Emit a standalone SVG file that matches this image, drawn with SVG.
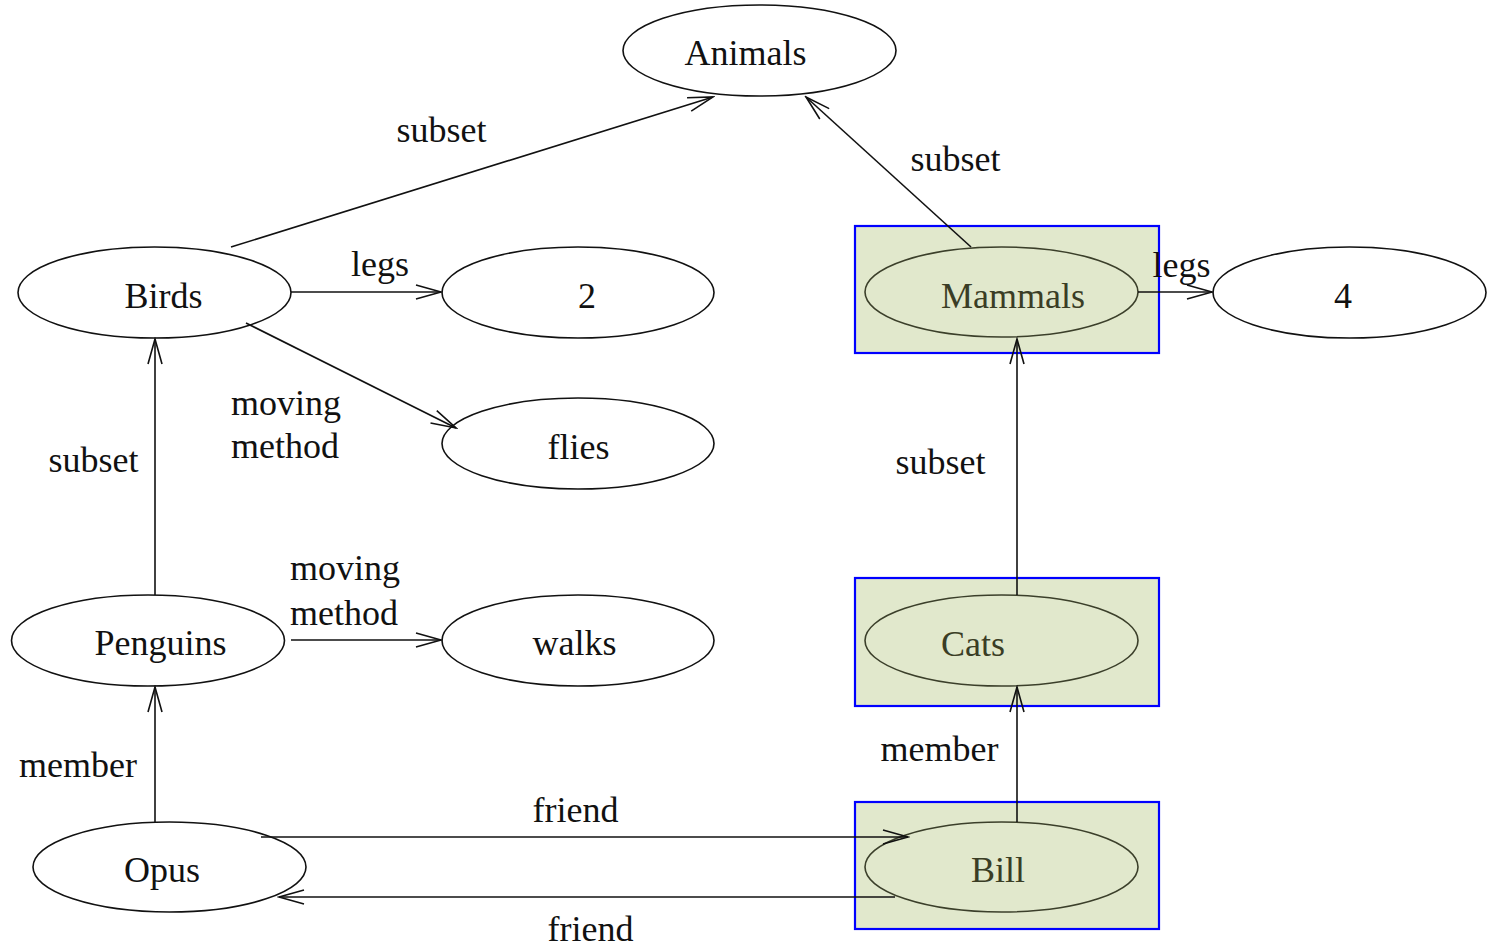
<svg xmlns="http://www.w3.org/2000/svg" width="1488" height="948" viewBox="0 0 1488 948">
<defs>
<marker id="arr" viewBox="-26 -8 28 16" refX="0" refY="0" markerWidth="28" markerHeight="16" markerUnits="userSpaceOnUse" orient="auto">
<path d="M-25,-7 L0,0 L-25,7" fill="none" stroke="#111" stroke-width="1.6"/>
</marker>
</defs>
<style>
text{font-family:"Liberation Serif","Times New Roman",serif;font-size:36px;fill:#111}
.n{fill:#fff;stroke:#111;stroke-width:1.6}
.g{fill:#e1e8cc;stroke:#3b3f2a;stroke-width:1.6}
.box{fill:#e1e8cc;stroke:#0000ff;stroke-width:2.2}
.gt{fill:#3a3d25}
.c{text-anchor:middle}
.e{fill:none;stroke:#111;stroke-width:1.6;marker-end:url(#arr)}
</style>
<rect width="1488" height="948" fill="#fff"/>
<g id="boxes">
<rect class="box" x="855" y="226" width="304" height="127"/>
<rect class="box" x="855" y="578" width="304" height="128"/>
<rect class="box" x="855" y="802" width="304" height="127"/>
</g>
<g id="animals"><ellipse class="n" cx="759.5" cy="50.5" rx="136.5" ry="45.5"/><text class="c" x="745.5" y="65">Animals</text></g>
<g id="birds"><ellipse class="n" cx="154.5" cy="292.5" rx="136.5" ry="45.5"/><text class="c" x="163.5" y="308">Birds</text></g>
<g id="two"><ellipse class="n" cx="578" cy="292.5" rx="136" ry="45.5"/><text class="c" x="587" y="308">2</text></g>
<g id="flies"><ellipse class="n" cx="578" cy="443.5" rx="136" ry="45.5"/><text class="c" x="578.5" y="459">flies</text></g>
<g id="mammals"><ellipse class="g" cx="1001.5" cy="292" rx="136.5" ry="45"/><text class="c gt" x="1013" y="308">Mammals</text></g>
<g id="four"><ellipse class="n" cx="1349.5" cy="292.5" rx="136.5" ry="45.5"/><text class="c" x="1343" y="308">4</text></g>
<g id="penguins"><ellipse class="n" cx="148" cy="640.5" rx="136.5" ry="45.5"/><text class="c" x="160.5" y="655">Penguins</text></g>
<g id="walks"><ellipse class="n" cx="578" cy="640.5" rx="136" ry="45.5"/><text class="c" x="574.5" y="655">walks</text></g>
<g id="cats"><ellipse class="g" cx="1001.5" cy="640.5" rx="136.5" ry="45.5"/><text class="c gt" x="973" y="656">Cats</text></g>
<g id="opus"><ellipse class="n" cx="169.5" cy="867" rx="136.5" ry="45"/><text class="c" x="162" y="882">Opus</text></g>
<g id="bill"><ellipse class="g" cx="1001.5" cy="867" rx="136.5" ry="45"/><text class="c gt" x="998" y="882">Bill</text></g>
<g id="connectors">
<line class="e" x1="231" y1="247" x2="713" y2="97"/>
<line class="e" x1="971" y1="247" x2="806" y2="97"/>
<line class="e" x1="291" y1="292" x2="441" y2="292"/>
<line class="e" x1="246" y1="323" x2="456" y2="428"/>
<line class="e" x1="155" y1="595" x2="155" y2="339"/>
<line class="e" x1="291" y1="640" x2="441" y2="640"/>
<line class="e" x1="155" y1="822" x2="155" y2="687"/>
<line class="e" x1="1138" y1="292" x2="1212" y2="292"/>
<line class="e" x1="1017" y1="595" x2="1017" y2="339"/>
<line class="e" x1="1017" y1="822" x2="1017" y2="687"/>
<line class="e" x1="261" y1="837" x2="908" y2="837"/>
<line class="e" x1="895" y1="897" x2="279" y2="897"/>
<text class="c" x="441.5" y="142">subset</text>
<text class="c" x="955.5" y="171">subset</text>
<text class="c" x="380" y="276">legs</text>
<text x="231" y="415">moving</text>
<text x="231" y="458">method</text>
<text class="c" x="93.5" y="472">subset</text>
<text class="c" x="1181.5" y="277">legs</text>
<text class="c" x="940.5" y="474">subset</text>
<text x="290" y="580">moving</text>
<text x="290" y="625">method</text>
<text class="c" x="78" y="777">member</text>
<text class="c" x="939.5" y="761">member</text>
<text class="c" x="575.5" y="822">friend</text>
<text class="c" x="590.5" y="941">friend</text>
</g>
</svg>
